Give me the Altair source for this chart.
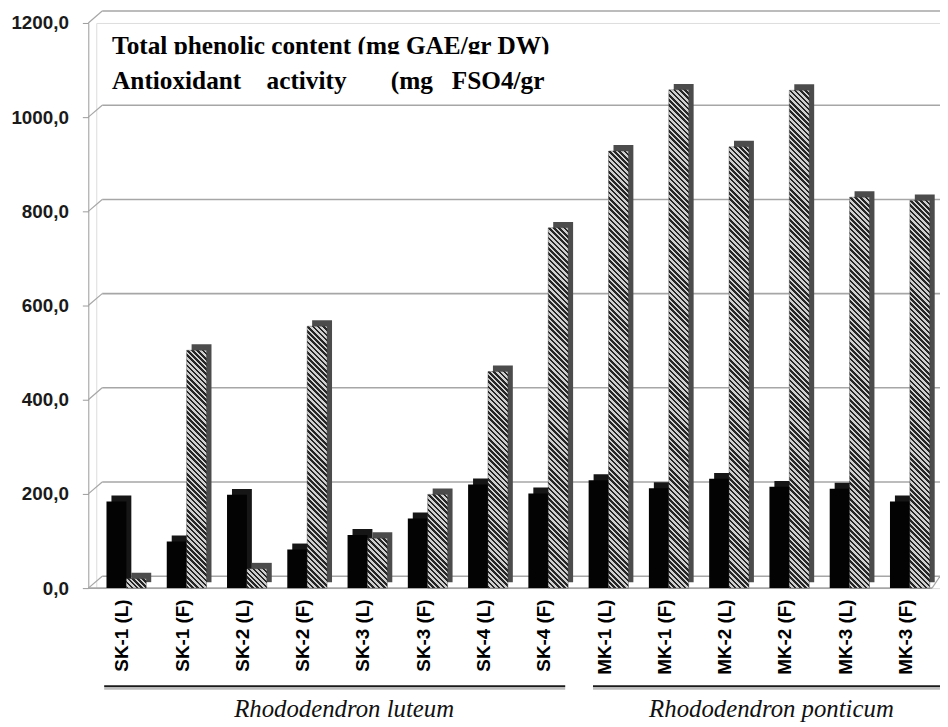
import math
import altair as alt
import pandas as pd

# ---------------- data ----------------
samples = ["SK-1 (L)", "SK-1 (F)", "SK-2 (L)", "SK-2 (F)", "SK-3 (L)", "SK-3 (F)",
           "SK-4 (L)", "SK-4 (F)", "MK-1 (L)", "MK-1 (F)", "MK-2 (L)", "MK-2 (F)",
           "MK-3 (L)", "MK-3 (F)"]
phenolic = [184, 99, 198, 82, 113, 148, 220, 201, 229, 212, 232, 215, 211, 184]
antiox = [20, 505, 41, 556, 106, 199, 460, 765, 928, 1058, 937, 1057, 830, 823]
y_ticks = [0, 200, 400, 600, 800, 1000, 1200]
NB = "\u00a0"
legend_lines = ["Total phenolic content (mg GAE/gr DW)",
                "Antioxidant" + NB * 4 + "activity" + NB * 7 + "(mg" + NB * 3 + "FSO4/gr"]
group_names = ["Rhododendron luteum", "Rhododendron ponticum"]

# ---------------- layout ----------------
W, H = 851, 570
YMAX = 1200
PI = 0.34
STEP = W / len(samples)
BAR_W = STEP * (1 - PI) / 2
T = 3.7  # hatch period (px)
DARK, LIGHT = "#262626", "#cfcfcf"
DX, DY = 5, 6  # 3D depth offset

df_ph = pd.DataFrame({"sample": samples, "value": phenolic})
df_ax = pd.DataFrame({"sample": samples, "value": antiox})

x_axis = alt.Axis(title=None, labelAngle=-90, labelFont="Liberation Sans",
                  labelFontWeight="bold", labelFontSize=19, labelColor="black",
                  domain=False, ticks=False, labelPadding=11, labelOffset=-4)
y_axis = alt.Axis(title=None, values=y_ticks, grid=False, offset=8,
                  labelExpr="replace(format(datum.value, '.1f'), '.', ',')",
                  domainColor="#9a9a9a", tickColor="#9a9a9a", tickSize=6,
                  labelFont="Liberation Sans", labelFontWeight="bold",
                  labelFontSize=19, labelColor="#1a1a1a", labelPadding=14)

X = alt.X("sample:N", sort=samples,
          scale=alt.Scale(domain=samples, paddingInner=PI, paddingOuter=PI / 2),
          axis=x_axis)
Y = alt.Y("value:Q", scale=alt.Scale(domain=[0, YMAX], nice=False, zero=True), axis=y_axis)


def hatch(v):
    h = max(v * H / YMAX, 1.0)
    w = BAR_W
    r = w / h
    k = (1 + r) / (1 + r * r)
    D = (w + h) / math.sqrt(2)
    n = max(1, round(D / T))
    stops = []
    for i in range(n):
        a, b, c = i / n, (i + 0.5) / n, (i + 1) / n
        stops += [alt.GradientStop(offset=a, color=DARK),
                  alt.GradientStop(offset=b, color=DARK),
                  alt.GradientStop(offset=b, color=LIGHT),
                  alt.GradientStop(offset=c, color=LIGHT)]
    return alt.LinearGradient(gradient="linear", stops=stops,
                              x1=0, y1=1, x2=k * r, y2=1 - k)


enc = dict(x=X, y=Y)
L_OFF = -BAR_W / 2
R_OFF = BAR_W / 2

black_shadow = alt.Chart(df_ph).mark_bar(
    color="#161616", width=BAR_W, xOffset=L_OFF + DX, yOffset=-DY, y2Offset=-DY).encode(**enc)
black_bar = alt.Chart(df_ph).mark_bar(color="#030303", width=BAR_W, xOffset=L_OFF).encode(**enc)

grey_shadow = alt.Chart(df_ax).mark_bar(
    color="#4c4c4c", width=BAR_W, xOffset=R_OFF + DX, yOffset=-DY, y2Offset=-DY).encode(**enc)

hatch_layers = []
for s, v in zip(samples, antiox):
    hatch_layers.append(
        alt.Chart(df_ax).transform_filter(alt.datum.sample == s)
        .mark_bar(fill=hatch(v), width=BAR_W, xOffset=R_OFF, stroke="#3a3a3a", strokeWidth=0.4)
        .encode(**enc)
    )

grid_df = pd.DataFrame({"value": y_ticks})
GRID = "#a6a6a6"
grid = alt.Chart(grid_df).mark_rule(color=GRID, strokeWidth=1.6, yOffset=-12).encode(
    y=Y, x=alt.value(6), x2=alt.value(W))
diag = alt.Chart(grid_df).mark_rule(color=GRID, strokeWidth=1.2, y2Offset=-12).encode(
    y=Y, y2=alt.Y2("value:Q"), x=alt.value(-8), x2=alt.value(6))

floor_df = pd.DataFrame({"value": [0]})
floor = alt.Chart(floor_df).mark_rule(color=GRID, strokeWidth=1.6).encode(
    y=Y, x=alt.value(-8), x2=alt.value(W - 8))
floor_diag = alt.Chart(floor_df).mark_rule(color=GRID, strokeWidth=1.2, y2Offset=-12).encode(
    y=Y, y2=alt.Y2("value:Q"), x=alt.value(W - 8), x2=alt.value(W))

leg1 = alt.Chart(pd.DataFrame({"t": [legend_lines[0]]})).mark_text(
    align="left", baseline="alphabetic", font="Liberation Serif", fontWeight="bold",
    fontSize=25.5, color="black").encode(text="t:N", x=alt.value(16), y=alt.value(31.5))
leg_clip = alt.Chart(pd.DataFrame({"t": [0]})).mark_rect(color="white").encode(
    x=alt.value(10), x2=alt.value(560), y=alt.value(31.5), y2=alt.value(42))
leg2 = alt.Chart(pd.DataFrame({"t": [legend_lines[1]]})).mark_text(
    align="left", baseline="alphabetic", font="Liberation Serif", fontWeight="bold",
    fontSize=25.5, color="black").encode(text="t:N", x=alt.value(16), y=alt.value(67))

grp_df = pd.DataFrame({"name": group_names, "x1": [8, 501], "x2": [473, 851], "xc": [250, 681]})
grp_shadow = alt.Chart(grp_df).mark_rule(color="#bdbdbd", strokeWidth=2).encode(
    x=alt.X("x1:Q", scale=None), x2="x2:Q", y=alt.value(671.5))
grp_line = alt.Chart(grp_df).mark_rule(color="#1a1a1a", strokeWidth=2.2).encode(
    x=alt.X("x1:Q", scale=None), x2="x2:Q", y=alt.value(669))
grp_text = alt.Chart(grp_df).mark_text(
    font="Liberation Serif", fontStyle="italic", fontSize=25, color="#111111",
    baseline="alphabetic").encode(x=alt.X("xc:Q", scale=None), y=alt.value(700), text="name:N")

chart = alt.layer(
    grid, diag, floor, floor_diag,
    black_shadow, black_bar, grey_shadow, *hatch_layers,
    leg1, leg_clip, leg2, grp_shadow, grp_line, grp_text,
).properties(
    width=W, height=H,
    autosize=alt.AutoSizeParams(type="none"),
    padding={"left": 89, "top": 12, "right": 0, "bottom": 137},
).configure_view(stroke=None).configure(background="white")

chart.save("out.html", embed_options={"renderer": "svg", "actions": False})
